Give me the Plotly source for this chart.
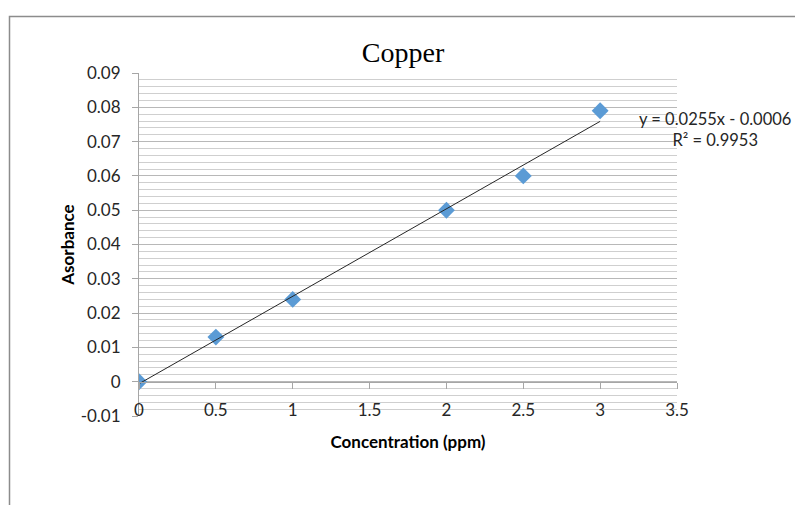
import plotly.graph_objects as go

# Data
concentration = [0, 0.5, 1, 2, 2.5, 3]
absorbance = [0, 0.013, 0.024, 0.050, 0.060, 0.079]
slope = 0.0255
intercept = -0.0006
r_squared = 0.9953
trend_x = [0, 3]
x_ticks = [0, 0.5, 1, 1.5, 2, 2.5, 3, 3.5]
y_ticks = [-0.01, 0, 0.01, 0.02, 0.03, 0.04, 0.05, 0.06, 0.07, 0.08, 0.09]

trend_y = [slope * v + intercept for v in trend_x]

W, H = 795, 505
L, R, T, B = 139, 677, 73, 416  # plot area in page pixels
pw, ph = R - L, B - T

def px_to_paper_x(p):
    return (p - L) / pw

def px_to_paper_y(p):
    return (B - p) / ph

fig = go.Figure()
fig.add_trace(go.Scatter(
    x=trend_x, y=trend_y, mode="lines", xaxis="x2", yaxis="y",
    line=dict(color="#262626", width=1), showlegend=False, hoverinfo="skip"))
fig.add_trace(go.Scatter(
    x=concentration, y=absorbance, mode="markers",
    marker=dict(symbol="diamond", size=13, color="#5B9BD5"),
    showlegend=False))

tick_font = dict(family="Lato", size=17, color="#262626")
fig.update_layout(
    width=W, height=H,
    margin=dict(l=L, r=W - R, t=T, b=H - B),
    paper_bgcolor="white", plot_bgcolor="white",
    title=dict(text="Copper", x=403 / W, xanchor="center",
               y=1 - 52 / H, yanchor="middle",
               font=dict(family="Liberation Serif", size=28, color="black")),
    xaxis=dict(range=[0, 3.5], tickvals=x_ticks, ticktext=[f"{v:g}" for v in x_ticks],
               showgrid=False, zeroline=False, showline=False, ticks="",
               ticklabelposition="inside", ticklabeloverflow="allow",
               ticklabelstandoff=-6,
               tickfont=tick_font,
               title=dict(text="<b>Concentration (ppm)</b>", standoff=17,
                          font=dict(family="Lato", size=17, color="black"))),
    xaxis2=dict(range=[0, 3.5], overlaying="x", anchor="free", position=0.1,
                tickvals=x_ticks, showticklabels=False, showgrid=False, zeroline=False,
                showline=True, linecolor="#A6A6A6", linewidth=1,
                ticks="outside", ticklen=6, tickcolor="#A6A6A6"),
    yaxis=dict(range=[-0.01, 0.09], tickvals=y_ticks,
               ticktext=[f"{v:g}" for v in y_ticks],
               showgrid=True, gridcolor="#B8B8B8", gridwidth=1,
               minor=dict(dtick=0.002, tick0=0, showgrid=True, gridcolor="#CFCFCF", gridwidth=1.2),
               zeroline=False, showline=True, linecolor="#A6A6A6", linewidth=1,
               ticks="outside", ticklen=6, tickcolor="#A6A6A6",
               tickfont=tick_font, ticklabelstandoff=8,
               title=dict(text="<b>Asorbance</b>", standoff=1,
                          font=dict(family="Lato", size=17, color="black"))),
    annotations=[dict(
        text="y = 0.0255x - 0.0006<br>R² = 0.9953",
        xref="paper", yref="paper",
        x=px_to_paper_x(715), y=px_to_paper_y(129.5),
        xanchor="center", yanchor="middle", align="center", showarrow=False,
        font=dict(family="Lato", size=16.5, color="#262626"))],
    shapes=[dict(type="rect", xref="paper", yref="paper",
                 x0=px_to_paper_x(9.5), x1=px_to_paper_x(830),
                 y0=px_to_paper_y(540), y1=px_to_paper_y(16.5),
                 line=dict(color="#8C8C8C", width=1.5), fillcolor="rgba(0,0,0,0)",
                 layer="below")],
)

fig.write_html(
    "out.html",
    config={"displayModeBar": False},
    post_script="document.body.style.margin='0';document.body.style.overflow='hidden';",
)
